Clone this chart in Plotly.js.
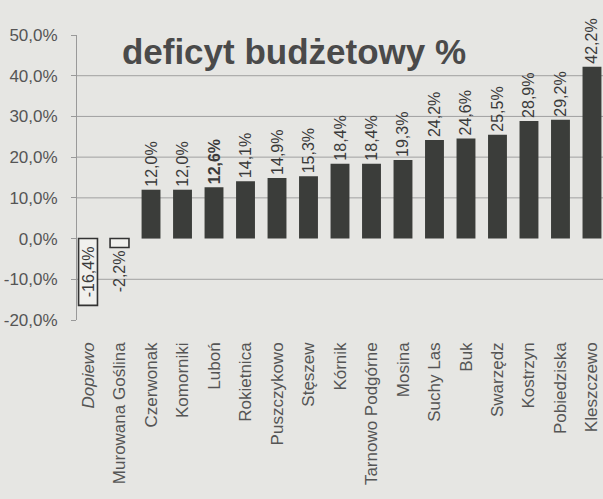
<!DOCTYPE html>
<html>
<head>
<meta charset="utf-8">
<script src="https://cdn.plot.ly/plotly-3.0.1.min.js"></script>
<style>
html,body{margin:0;padding:0;background:#e6e6e3;}
#chart{width:603px;height:499px;}
</style>
</head>
<body>
<div id="chart"></div>
<script>
// Data
const categories = ["Dopiewo","Murowana Goślina","Czerwonak","Komorniki","Luboń","Rokietnica","Puszczykowo","Stęszew","Kórnik","Tarnowo Podgórne","Mosina","Suchy Las","Buk","Swarzędz","Kostrzyn","Pobiedziska","Kleszczewo"];
const deficit = [-16.4,-2.2,12.0,12.0,12.6,14.1,14.9,15.3,18.4,18.4,19.3,24.2,24.6,25.5,28.9,29.2,42.2];
const yTickVals = [-20,-10,0,10,20,30,40,50];
const yTickText = ["-20,0%","-10,0%","0,0%","10,0%","20,0%","30,0%","40,0%","50,0%"];
const gridVals = [-10,10,20,30,40];
const chartTitle = "deficyt budżetowy %";

const FONT = "Liberation Sans, Arial, Helvetica, sans-serif";
const DARK = "#3b3d3a";
const xIdx = categories.map((c,i)=>i);

const labels = deficit.map((v,i)=>{
  const s = v.toFixed(1).replace('.',',') + '%';
  return categories[i]==="Luboń" ? '<b>'+s+'</b>' : s;
});
const textPos = deficit.map(v => v < -5 ? 'inside' : 'outside');
const barColors = deficit.map(v => v < 0 ? '#f0f0ed' : DARK);
const lineWidths = deficit.map(v => v < 0 ? 1.6 : 0);

const tickText = categories.map(c => c==="Dopiewo" ? '<i>'+c+'</i>' : c);

const trace = {
  type:'bar',
  x:xIdx,
  y:deficit,
  width:0.6,
  marker:{color:barColors, line:{color:'#333', width:lineWidths}},
  text:labels,
  textposition:textPos,
  textangle:-90,
  insidetextanchor:'middle',
  constraintext:'none',
  cliponaxis:false,
  textfont:{family:FONT, size:16, color:'#3a3a3a'},
  hoverinfo:'none'
};

const shapes = gridVals.map(v => ({
  type:'line', xref:'paper', x0:0, x1:1, yref:'y', y0:v, y1:v,
  line:{color:'#a0a0a0', width:1}, layer:'below'
}));

const layout = {
  width:603, height:499,
  paper_bgcolor:'#e6e6e3',
  plot_bgcolor:'rgba(0,0,0,0)',
  margin:{l:77, r:0, t:35, b:179},
  showlegend:false,
  font:{family:FONT, color:'#555'},
  title:{
    text:'<b>'+chartTitle+'</b>',
    font:{family:FONT, size:35, color:'#4a4a4a'},
    x:294/603, xanchor:'center', xref:'container',
    y:1-52/499, yanchor:'middle', yref:'container'
  },
  xaxis:{
    range:[-0.35,16.35],
    tickmode:'array',
    tickvals:xIdx,
    ticktext:tickText,
    tickangle:-90,
    tickfont:{family:FONT, size:17, color:'#555'},
    ticks:'',
    showline:false,
    showgrid:false,
    zeroline:false,
    ticklabelstandoff:18
  },
  xaxis2:{
    overlaying:'x',
    anchor:'free',
    position:20/70,
    range:[-0.35,16.35],
    tickmode:'array',
    tickvals:xIdx.map(i=>i+0.5),
    ticks:'outside',
    ticklen:4,
    tickcolor:'#888',
    showticklabels:false,
    showline:true,
    linecolor:'#777',
    linewidth:1,
    showgrid:false,
    zeroline:false
  },
  yaxis:{
    range:[-20,50],
    tickmode:'array',
    tickvals:yTickVals,
    ticktext:yTickText,
    tickfont:{family:FONT, size:17, color:'#555'},
    ticks:'outside',
    ticklen:5,
    tickcolor:'#999',
    showline:true,
    linecolor:'#999',
    linewidth:1,
    showgrid:false,
    zeroline:false,
    ticklabelstandoff:10
  },
  shapes:shapes
};

Plotly.newPlot('chart',[trace],layout,{displayModeBar:false, staticPlot:true});
</script>
</body>
</html>
